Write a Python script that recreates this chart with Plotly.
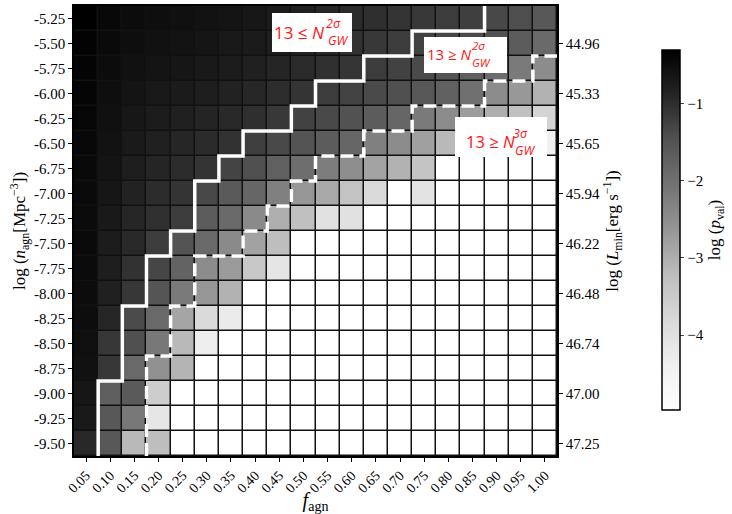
import plotly.graph_objects as go

# ---------------- data ----------------
f_agn = [0.05, 0.10, 0.15, 0.20, 0.25, 0.30, 0.35, 0.40, 0.45, 0.50,
         0.55, 0.60, 0.65, 0.70, 0.75, 0.80, 0.85, 0.90, 0.95, 1.00]
f_agn_labels = ["%.2f" % v for v in f_agn]

# rows from top (-5.25) to bottom (-9.50)
log_n_agn = [-5.25, -5.50, -5.75, -6.00, -6.25, -6.50, -6.75, -7.00, -7.25,
             -7.50, -7.75, -8.00, -8.25, -8.50, -8.75, -9.00, -9.25, -9.50]
log_n_labels = ["%.2f" % v for v in log_n_agn]

log_L_rows = [-5.50, -6.00, -6.50, -7.00, -7.50, -8.00, -8.50, -9.00, -9.50]
log_L_labels = ["44.96", "45.33", "45.65", "45.94", "46.22", "46.48", "46.74", "47.00", "47.25"]

W = -4.97  # white / floor value
log_pval = [
    [-0.31, -0.44, -0.50, -0.53, -0.56, -0.59, -0.62, -0.67, -0.74, -0.81, -0.91, -0.97, -1.02, -1.09, -1.14, -1.19, -1.23, -1.35, -1.42, -1.58],
    [-0.36, -0.47, -0.53, -0.58, -0.61, -0.64, -0.69, -0.74, -0.80, -0.88, -0.96, -1.06, -1.14, -1.19, -1.27, -1.32, -1.37, -1.48, -1.65, -1.88],
    [-0.37, -0.50, -0.58, -0.62, -0.66, -0.70, -0.75, -0.81, -0.89, -0.96, -1.04, -1.10, -1.19, -1.27, -1.37, -1.51, -1.70, -1.93, -2.17, -2.47],
    [-0.39, -0.53, -0.62, -0.69, -0.74, -0.78, -0.85, -0.92, -1.00, -1.09, -1.19, -1.28, -1.37, -1.45, -1.56, -1.74, -2.00, -2.47, -2.67, -3.06],
    [-0.40, -0.56, -0.67, -0.75, -0.81, -0.88, -0.94, -1.02, -1.14, -1.27, -1.36, -1.48, -1.65, -1.83, -2.17, -2.47, -2.74, -3.01, -3.29, -3.70],
    [-0.44, -0.59, -0.72, -0.81, -0.91, -0.97, -1.06, -1.23, -1.36, -1.51, -1.65, -1.83, -2.27, -2.47, -2.79, -3.16, -3.45, -3.76, -4.08, -4.39],
    [-0.45, -0.62, -0.78, -0.89, -0.98, -1.09, -1.29, -1.45, -1.72, -1.97, -2.22, -2.51, -2.83, -3.06, -3.37, W, W, W, W, W],
    [-0.47, -0.66, -0.85, -0.98, -1.09, -1.35, -1.62, -1.83, -2.27, -2.64, -2.91, -3.35, -3.83, W, -4.06, W, W, W, W, W],
    [-0.48, -0.70, -0.91, -1.04, -1.19, -1.65, -1.88, -2.44, -3.01, -3.29, -4.01, -4.01, W, W, W, W, W, W, W, W],
    [-0.47, -0.75, -0.94, -1.19, -1.51, -1.88, -2.44, -2.82, -3.24, W, W, W, W, W, W, W, W, W, W, W],
    [-0.48, -0.78, -1.06, -1.32, -1.78, -2.47, -2.71, -3.45, -4.11, W, W, W, W, W, W, W, W, W, W, W],
    [-0.50, -0.81, -1.13, -1.53, -2.17, -2.64, -3.06, W, W, W, W, W, W, W, W, W, W, W, W, W],
    [-0.52, -0.91, -1.38, -1.88, -2.86, -3.83, -4.26, W, W, W, W, W, W, W, W, W, W, W, W, W],
    [-0.55, -1.13, -1.45, -2.14, -3.16, -4.34, W, W, W, W, W, W, W, W, W, W, W, W, W, W],
    [-0.58, -1.13, -1.88, -2.56, -3.09, W, W, W, W, W, W, W, W, W, W, W, W, W, W, W],
    [-0.66, -1.70, -1.62, -3.56, W, W, W, W, W, W, W, W, W, W, W, W, W, W, W, W],
    [-0.70, -1.58, -2.14, -4.13, W, W, W, W, W, W, W, W, W, W, W, W, W, W, W, W],
    [-0.93, -1.58, -3.16, -3.24, W, W, W, W, W, W, W, W, W, W, W, W, W, W, W, W],
]

# first column index lying right of each boundary, per row (top -> bottom); None = beyond grid
boundary_2sigma = [17, 14, 12, 10, 9, 7, 6, 5, 5, 4, 3, 3, 2, 2, 2, 1, 1, 1]
boundary_3sigma = [None, None, 19, 17, 14, 12, 10, 9, 8, 7, 5, 5, 4, 4, 3, 3, 3, 3]

ZMIN, ZMAX = -4.97, -0.31
CBAR_TICKS = [-1, -2, -3, -4]

# ---------------- helpers ----------------
dx = f_agn[1] - f_agn[0]
dy = log_n_agn[0] - log_n_agn[1]
x_left, x_right = f_agn[0] - dx / 2, f_agn[-1] + dx / 2
y_bot, y_top = log_n_agn[-1] - dy / 2, log_n_agn[0] + dy / 2


def step_path(bcols):
    xs, ys = [], []
    for r in range(len(log_n_agn) - 1, -1, -1):
        b = bcols[r]
        lo, hi = log_n_agn[r] - dy / 2, log_n_agn[r] + dy / 2
        if b is None:
            xs.append(x_right)
            ys.append(lo)
            break
        xe = f_agn[b] - dx / 2
        xs += [xe, xe]
        ys += [lo, hi]
    return xs, ys


greys = [[0.0, "#ffffff"], [0.125, "#f0f0f0"], [0.25, "#d9d9d9"], [0.375, "#bdbdbd"],
         [0.5, "#969696"], [0.625, "#737373"], [0.75, "#525252"], [0.875, "#252525"],
         [1.0, "#000000"]]

FW, FH = 732, 514
PL, PR, PT, PB = 74, 557, 6, 456


def px(xp):
    return (xp - PL) / (PR - PL)


def py(yp):
    return (PB - yp) / (PB - PT)


SERIF = "Liberation Serif"
fig = go.Figure()
fig.add_trace(go.Heatmap(
    z=log_pval, x=f_agn, y=log_n_agn, colorscale=greys, zmin=ZMIN, zmax=ZMAX,
    xgap=1.5, ygap=1.5, hoverongaps=False,
    colorbar=dict(
        x=px(662), xanchor="left", y=py(230), yanchor="middle",
        xpad=0, ypad=0,
        thickness=18, len=360 / (PB - PT), lenmode="fraction",
        outlinewidth=1.5, outlinecolor="black",
        tickvals=CBAR_TICKS, ticks="outside", ticklen=4,
        tickfont=dict(family=SERIF, size=15, color="black"),
        title=dict(text="log (<i>p</i><sub>val</sub>)", side="right",
                   font=dict(family=SERIF, size=17, color="black")),
    ),
))

sx, sy = step_path(boundary_2sigma)
fig.add_trace(go.Scatter(x=sx, y=sy, mode="lines", line=dict(color="white", width=3.5),
                         hoverinfo="skip", showlegend=False))
dxs, dys = step_path(boundary_3sigma)
fig.add_trace(go.Scatter(x=dxs, y=dys, mode="lines",
                         line=dict(color="white", width=3.5, dash="13px,6px"),
                         hoverinfo="skip", showlegend=False))
fig.add_trace(go.Scatter(x=[None], y=[None], yaxis="y2", showlegend=False, hoverinfo="skip"))

# ---------------- labels ----------------
RED = "#ff1414"
LABEL_FONT = "Open Sans"
labels = [
    # box (x0,x1,y0,y1), main text, main left, main cy, size, sup, sup x, sup cy, sub x, sub cy, small size
    ((272, 352, 13, 52), "13 ≤ <i>N</i>", 272, 32, 17, "<i>2σ</i>", 324, 23, 326, 41, 12.5),
    ((424, 507, 37, 73), "13 ≥ <i>N</i>", 425, 54, 15, "<i>2σ</i>", 470, 45, 470, 62, 11.5),
    ((455, 547, 117, 157), "13 ≥ <i>N</i>", 464, 142, 16.5, "<i>3σ</i>", 511, 133, 513, 151, 12.5),
]
shapes = []
annotations = []
for (bx0, bx1, by0, by1), main, mx, my, ms, sup, sx_, sy_, subx, suby, ss in labels:
    shapes.append(dict(type="rect", xref="paper", yref="paper", x0=px(bx0), x1=px(bx1),
                       y0=py(by1), y1=py(by0), fillcolor="white", line=dict(width=0),
                       layer="above"))
    annotations.append(dict(text=main, xref="paper", yref="paper", x=px(mx), y=py(my),
                            xanchor="left", yanchor="middle", showarrow=False,
                            font=dict(family=LABEL_FONT, size=ms, color=RED)))
    annotations.append(dict(text=sup, xref="paper", yref="paper", x=px(sx_), y=py(sy_),
                            xanchor="left", yanchor="middle", showarrow=False,
                            font=dict(family=LABEL_FONT, size=ss, color=RED)))
    annotations.append(dict(text="<i>GW</i>", xref="paper", yref="paper", x=px(subx), y=py(suby),
                            xanchor="left", yanchor="middle", showarrow=False,
                            font=dict(family=LABEL_FONT, size=ss, color=RED)))

tickfont = dict(family=SERIF, size=15, color="black")
fig.update_layout(
    width=FW, height=FH,
    margin=dict(l=PL, r=FW - PR, t=PT, b=FH - PB, autoexpand=False),
    paper_bgcolor="white", plot_bgcolor="#111111",
    showlegend=False,
    shapes=shapes, annotations=annotations,
    xaxis=dict(range=[x_left, x_right], tickvals=f_agn, ticktext=f_agn_labels,
               tickangle=-45, ticks="outside", ticklen=4, tickwidth=1, tickcolor="black",
               showline=True, mirror=True, linecolor="black", linewidth=1.5,
               showgrid=False, zeroline=False, automargin=False,
               tickfont=dict(family=SERIF, size=14, color="black"),
               title=dict(text="<i>f</i><sub>agn</sub>", standoff=2,
                          font=dict(family=SERIF, size=20, color="black"))),
    yaxis=dict(range=[y_bot, y_top], tickvals=log_n_agn, ticktext=log_n_labels,
               ticks="outside", ticklen=4, tickwidth=1, tickcolor="black",
               showline=True, mirror=True, linecolor="black", linewidth=1.5,
               showgrid=False, zeroline=False, automargin=False, tickfont=tickfont,
               title=dict(text="log (<i>n</i><sub>agn</sub>[Mpc<sup>−3</sup>])", standoff=4,
                          font=dict(family=SERIF, size=17, color="black"))),
    yaxis2=dict(range=[y_bot, y_top], overlaying="y", side="right", anchor="x",
                tickvals=log_L_rows, ticktext=log_L_labels,
                ticks="outside", ticklen=4, tickwidth=1, tickcolor="black",
                showline=True, linecolor="black", linewidth=1.5,
                showgrid=False, zeroline=False, automargin=False, tickfont=tickfont,
                title=dict(text="log (<i>L</i><sub>min</sub>[erg s<sup>−1</sup>])", standoff=6,
                           font=dict(family=SERIF, size=17, color="black"))),
)

fig.write_html("out.html", config={"displayModeBar": False},
               post_script="document.body.style.margin='0px';")
